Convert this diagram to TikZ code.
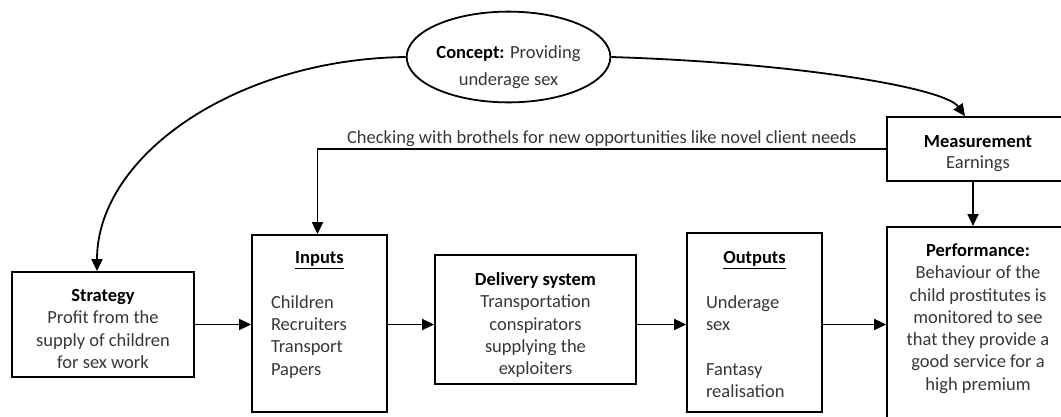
\documentclass[tikz,border=0pt]{standalone}
\usepackage{fontspec}
\setmainfont{Carlito}
\usetikzlibrary{arrows.meta,shapes.geometric,calc}
\definecolor{txt}{RGB}{55,55,55}
\begin{document}
\begin{tikzpicture}[x=1pt,y=-1pt,
  box/.style={draw, line width=1.8pt, inner sep=0pt, text=txt, font=\fontsize{18.5}{22.3}\selectfont},
  arr/.style={line width=1.8pt, -{Triangle[length=12pt,width=11pt]}},
  lbl/.style={text=txt, font=\fontsize{18.5}{22}\selectfont, inner sep=1pt}]
\useasboundingbox (0,0) rectangle (1061,416);
\clip (0,0) rectangle (1061,416);

\node[ellipse, draw, line width=1.8pt, minimum width=195pt, minimum height=87pt, inner sep=0pt,
      align=center, text=txt, font=\fontsize{18.5}{27}\selectfont] (concept) at (508.5,57)
  {\rule{0pt}{34pt}\textcolor{black}{\textbf{Concept:}} Providing\\underage sex};

\node[box, minimum width=182pt, minimum height=105pt, align=center] (strategy) at (103,324.5)
  {\rule{0pt}{21pt}\textcolor{black}{\textbf{Strategy}}\\Profit from the\\supply of children\\for sex work};

\node[box, minimum width=135pt, minimum height=177pt, text width=97pt, align=left] (inputs) at (319.5,323.5)
  {\makebox[\linewidth][c]{\textcolor{black}{\underline{\textbf{Inputs}}}}\\[22.3pt]Children\\Recruiters\\Transport\\Papers\rule[-20pt]{0pt}{0pt}};

\node[box, minimum width=201pt, minimum height=129pt, align=center] (delivery) at (535.5,319.5)
  {\rule{0pt}{24pt}\textcolor{black}{\textbf{Delivery system}}\\Transportation\\conspirators\\supplying the\\exploiters};

\node[box, minimum width=135pt, minimum height=179pt, text width=97pt, align=left] (outputs) at (754.5,322.5)
  {\makebox[\linewidth][c]{\rule{0pt}{16pt}\textcolor{black}{\underline{\textbf{Outputs}}}}\\[22.3pt]Underage\\sex\\[22.3pt]Fantasy\\realisation};

\node[box, minimum width=182pt, minimum height=64pt, align=center, font=\fontsize{18.5}{21}\selectfont] (measurement) at (978,149)
  {\rule{0pt}{22pt}\textcolor{black}{\textbf{Measurement}}\\Earnings};

\node[box, minimum width=182pt, minimum height=214pt, align=center, anchor=north] (performance) at (978,226)
  {\textcolor{black}{\textbf{Performance:}}\\Behaviour of the\\child prostitutes is\\monitored to see\\that they provide a\\good service for a\\high premium\rule[-34pt]{0pt}{0pt}};

\draw[arr] (concept.west) .. controls (237,59) and (97,155) .. ([xshift=-6pt]strategy.north);
\draw[arr] (concept.east) .. controls (800,63) and (945,88) .. ([xshift=-13pt]measurement.north);
\draw[arr] (measurement.west) -| node[pos=0.25, above, lbl] {Checking with brothels for new opportunities like novel client needs} ([xshift=-2pt]inputs.north);
\draw[arr] ([xshift=-5pt]measurement.south) -- ([xshift=-5pt]performance.north);

\draw[arr] (strategy.east) -- (strategy.east -| inputs.west);
\draw[arr] (strategy.east -| inputs.east) -- (strategy.east -| delivery.west);
\draw[arr] (strategy.east -| delivery.east) -- (strategy.east -| outputs.west);
\draw[arr] (strategy.east -| outputs.east) -- (strategy.east -| performance.west);
\end{tikzpicture}
\end{document}
